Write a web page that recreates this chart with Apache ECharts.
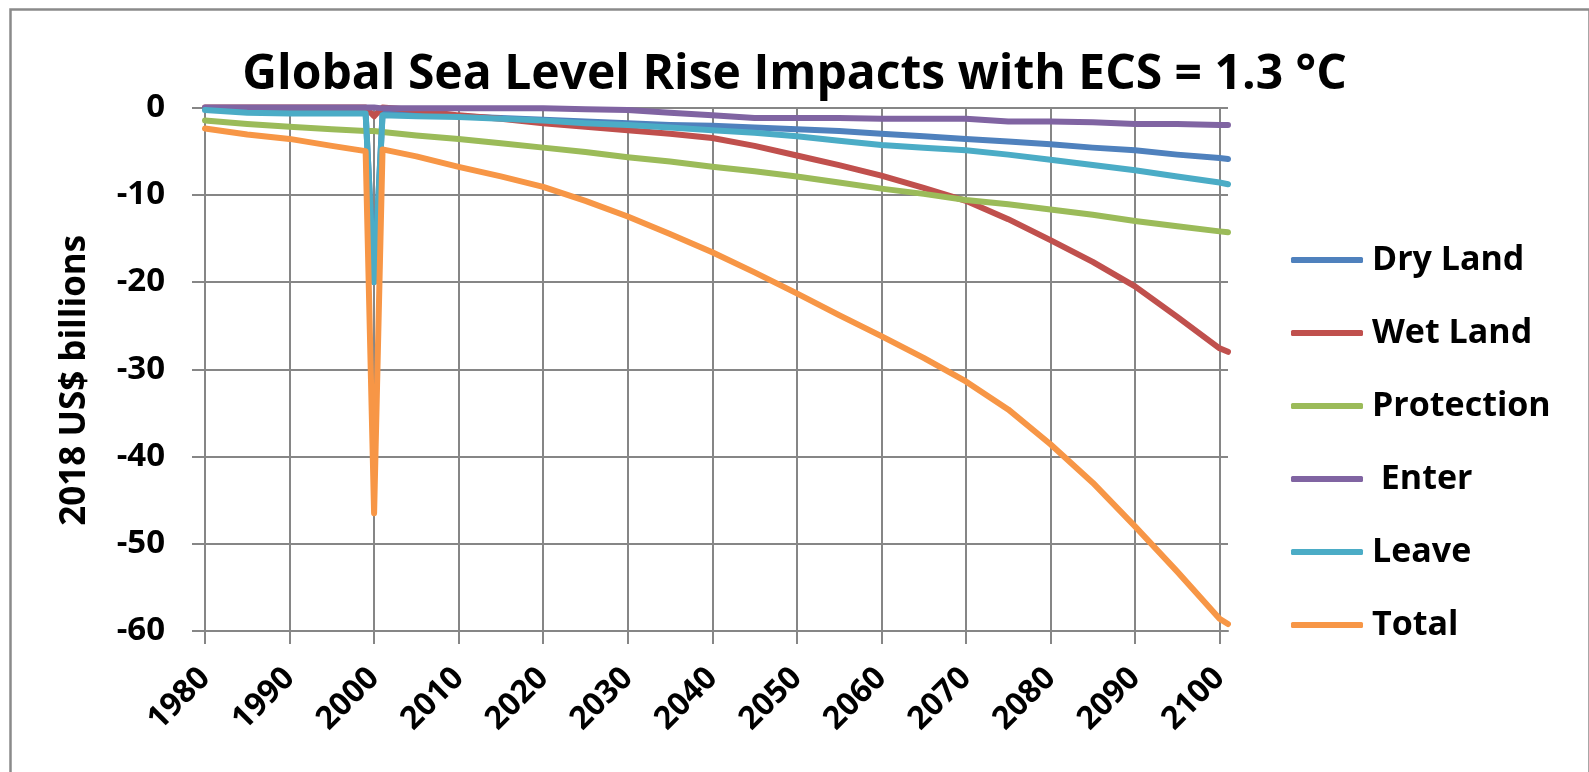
<!DOCTYPE html>
<html>
<head>
<meta charset="utf-8">
<script src="https://cdn.jsdelivr.net/npm/echarts@6/dist/echarts.min.js"></script>
<style>
html,body{margin:0;padding:0;background:#fff;}
#chart{width:1589px;height:772px;}
</style>
</head>
<body>
<div id="chart"></div>
<script>
var years      = [1980,1985,1990,1995,1999,2000,2001,2005,2010,2015,2020,2025,2030,2035,2040,2045,2050,2055,2060,2065,2070,2075,2080,2085,2090,2095,2100,2101];
var dryLand    = [-0.2,-0.4,-0.5,-0.6,-0.6,-20,-0.7,-0.8,-1.0,-1.2,-1.4,-1.6,-1.8,-2.0,-2.1,-2.3,-2.5,-2.7,-3.0,-3.3,-3.6,-3.9,-4.2,-4.6,-4.9,-5.4,-5.8,-5.9];
var wetLand    = [0,0,0,0,0,-1,0,-0.3,-0.9,-1.3,-1.8,-2.2,-2.6,-3.0,-3.5,-4.4,-5.5,-6.6,-7.8,-9.2,-10.7,-12.8,-15.2,-17.7,-20.5,-24.0,-27.6,-28.0];
var protection = [-1.5,-1.9,-2.2,-2.5,-2.7,-2.7,-2.8,-3.2,-3.6,-4.1,-4.6,-5.1,-5.7,-6.2,-6.8,-7.3,-7.9,-8.6,-9.3,-9.9,-10.6,-11.1,-11.7,-12.3,-13.0,-13.6,-14.2,-14.3];
var enter      = [0,0,0,0,0,0,-0.1,-0.1,-0.1,-0.1,-0.1,-0.2,-0.3,-0.6,-0.9,-1.2,-1.2,-1.2,-1.3,-1.3,-1.3,-1.6,-1.6,-1.7,-1.9,-1.9,-2.0,-2.0];
var leave      = [-0.3,-0.6,-0.7,-0.7,-0.7,-20,-0.9,-1.0,-1.1,-1.3,-1.5,-1.8,-2.0,-2.3,-2.6,-2.9,-3.3,-3.8,-4.3,-4.6,-4.9,-5.4,-6.0,-6.6,-7.2,-7.9,-8.6,-8.8];
var total      = [-2.4,-3.1,-3.6,-4.4,-5.0,-46.5,-4.8,-5.6,-6.8,-7.9,-9.1,-10.7,-12.5,-14.5,-16.6,-18.9,-21.3,-23.8,-26.2,-28.7,-31.4,-34.6,-38.6,-43.0,-48.0,-53.2,-58.6,-59.2];
var xTicks     = [1980,1990,2000,2010,2020,2030,2040,2050,2060,2070,2080,2090,2100];
var seriesNames = ['Dry Land','Wet Land','Protection',' Enter','Leave','Total'];
var seriesData  = [dryLand, wetLand, protection, enter, leave, total];
var colors      = ['#4F81BD','#C0504D','#9BBB59','#8064A2','#4BACC6','#F79646'];

function pairs(vals){ return years.map(function(y,i){ return [y, vals[i]]; }); }

var font = '"Open Sans", Lato, sans-serif';
var chart = echarts.init(document.getElementById('chart'));
chart.setOption({
  animation:false,
  backgroundColor:'#ffffff',
  color: colors,
  title:{
    text:'Global Sea Level Rise Impacts with ECS = 1.3 °C',
    left:'center', top:46,
    textStyle:{fontFamily:font, fontWeight:'bold', fontSize:48, color:'#000'}
  },
  graphic:[{
    type:'rect', left:8, top:7, shape:{width:1579, height:800},
    style:{fill:'none', stroke:'#8a8a8a', lineWidth:2.5}, silent:true
  }],
  grid:{left:205, top:107.5, width:1023, height:523.5, containLabel:false},
  legend:{
    orient:'vertical', left:1286, top:238,
    itemWidth:72, itemHeight:6, itemGap:39, icon:'roundRect',
    textStyle:{fontFamily:font, fontWeight:'bold', fontSize:34, color:'#000', lineHeight:34, padding:[0,0,0,4]},
    data: seriesNames
  },
  xAxis:{
    type:'value', min:1980, max:2101,
    axisLine:{onZero:false, lineStyle:{color:'#868686', width:2}},
    axisTick:{show:true, length:13, customValues:xTicks, lineStyle:{color:'#868686', width:2}},
    axisLabel:{customValues:xTicks, rotate:45, margin:42, fontFamily:font, fontWeight:'bold', fontSize:32, color:'#000',
      formatter:function(v){ return String(v); }},
    splitLine:{show:true, lineStyle:{color:'#868686', width:2}}
  },
  yAxis:{
    type:'value', min:-60, max:0, interval:10,
    name:'2018 US$ billions', nameLocation:'middle', nameGap:112,
    nameTextStyle:{fontFamily:font, fontWeight:'bold', fontSize:35, color:'#000', padding:[0,22,0,0]},
    axisLine:{show:true, lineStyle:{color:'#868686', width:2}},
    axisTick:{show:true, length:13, lineStyle:{color:'#868686', width:2}},
    axisLabel:{margin:40, fontFamily:font, fontWeight:'bold', fontSize:33, color:'#000'},
    splitLine:{show:true, lineStyle:{color:'#868686', width:2}}
  },
  series: seriesNames.map(function(n,i){
    return {
      name:n, type:'line', showSymbol:false, symbol:'none', clip:false,
      data: pairs(seriesData[i]),
      lineStyle:{width:6, color:colors[i], cap:'round', join:'round'},
      itemStyle:{color:colors[i]}
    };
  })
});
</script>
</body>
</html>
